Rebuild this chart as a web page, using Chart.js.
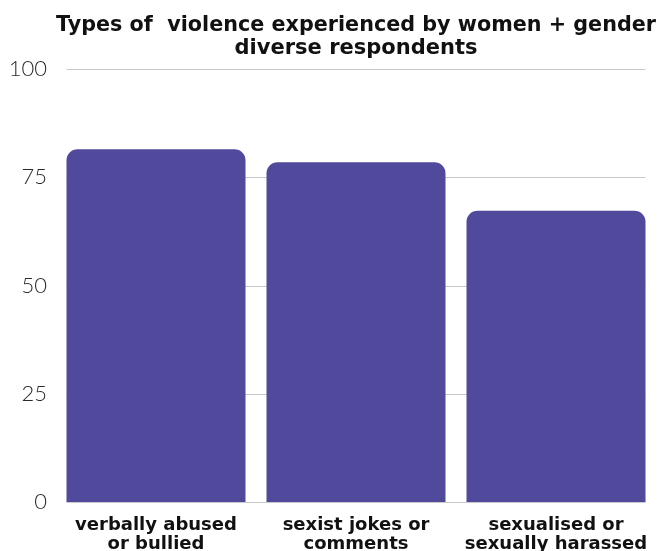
<!DOCTYPE html>
<html>
<head>
<meta charset="utf-8">
<script src="https://cdn.jsdelivr.net/npm/chart.js@4.4.1/dist/chart.umd.min.js"></script>
<style>
  html, body { margin: 0; padding: 0; background: #ffffff; }
  #wrap { width: 662px; height: 551px; }
</style>
</head>
<body>
<div id="wrap"><canvas id="chart" width="662" height="551"></canvas></div>
<script>
// Survey categories (wrapped onto two lines) and share of respondents (%)
const categories = [
  ['verbally abused', 'or bullied'],
  ['sexist jokes or', 'comments'],
  ['sexualised or', 'sexually harassed']
];
const percentages = [81.5, 78.5, 67.3];
const yTicks = [0, 25, 50, 75, 100];
const titleLines = ['Types of  violence experienced by women + gender', 'diverse respondents'];

const barColor = '#514a9c';
const gridColor = '#c9c9c9';

// Horizontal guide lines that run only across the span covered by the bars
const barSpanGrid = {
  id: 'barSpanGrid',
  beforeDatasetsDraw(chart) {
    const bars = chart.getDatasetMeta(0).data;
    if (!bars.length) return;
    const first = bars[0], last = bars[bars.length - 1];
    const x0 = first.x - first.width / 2;
    const x1 = last.x + last.width / 2;
    const y = chart.scales.y;
    const ctx = chart.ctx;
    ctx.save();
    ctx.strokeStyle = gridColor;
    ctx.lineWidth = 1;
    yTicks.forEach(v => {
      const py = Math.round(y.getPixelForValue(v)) + 0.5;
      ctx.beginPath();
      ctx.moveTo(x0, py);
      ctx.lineTo(x1, py);
      ctx.stroke();
    });
    ctx.restore();
  }
};

new Chart(document.getElementById('chart'), {
  type: 'bar',
  data: {
    labels: categories,
    datasets: [{
      data: percentages,
      backgroundColor: barColor,
      borderRadius: { topLeft: 11, topRight: 11, bottomLeft: 0, bottomRight: 0 },
      borderSkipped: 'start',
      categoryPercentage: 1.0,
      barPercentage: 0.895
    }]
  },
  plugins: [barSpanGrid],
  options: {
    responsive: false,
    animation: false,
    layout: { padding: { left: 0, right: 6, top: 0, bottom: 0 } },
    plugins: {
      legend: { display: false },
      tooltip: { enabled: false },
      title: {
        display: true,
        fullSize: false,
        text: titleLines,
        color: '#111111',
        font: { family: 'DejaVu Sans', size: 21, weight: 'bold', lineHeight: 1.05 },
        padding: { top: 15, bottom: 10 }
      }
    },
    scales: {
      y: {
        min: 0,
        max: 100,
        afterBuildTicks: axis => { axis.ticks = yTicks.map(v => ({ value: v })); },
        afterFit: axis => { axis.width = 56; },
        border: { display: false },
        grid: { display: false, drawTicks: false },
        ticks: {
          padding: 9,
          color: '#2a2a2a',
          font: { family: 'Lato', size: 22, weight: 300 }
        }
      },
      x: {
        afterFit: axis => { axis.height = 49; },
        border: { display: false },
        grid: { display: false },
        ticks: {
          padding: 5,
          color: '#111111',
          maxRotation: 0,
          autoSkip: false,
          font: { family: 'DejaVu Sans', size: 18, weight: 'bold', lineHeight: 1.1 }
        }
      }
    }
  }
});
</script>
</body>
</html>
